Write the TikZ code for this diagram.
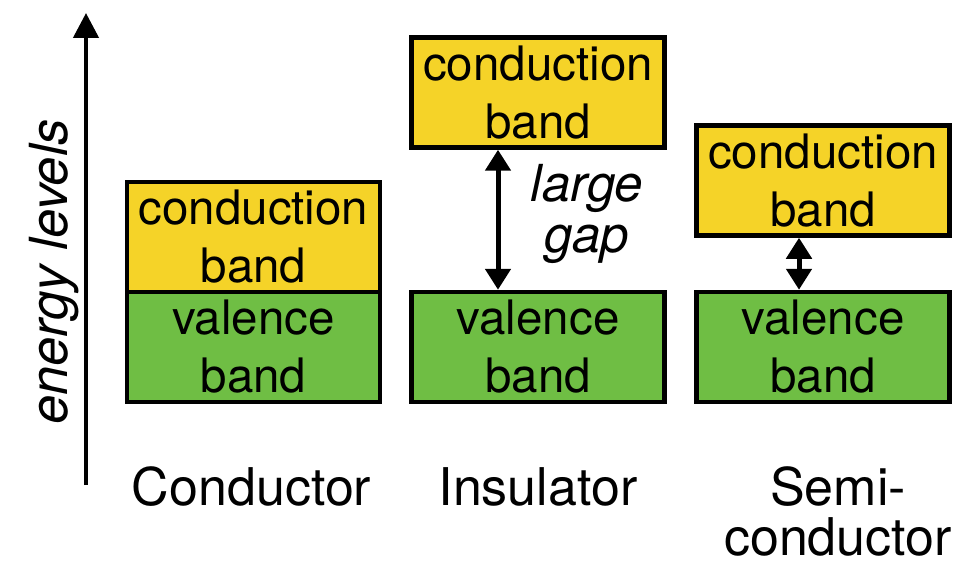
\documentclass[tikz,border=0pt]{standalone}
\usepackage{fontspec}
\setmainfont{TeX Gyre Heros}
\usetikzlibrary{arrows.meta}

\definecolor{bandyellow}{RGB}{245,211,40}
\definecolor{bandgreen}{RGB}{111,190,68}

\newcommand{\bandfont}{\fontsize{47.5pt}{58pt}\selectfont}
\newcommand{\captionfont}{\fontsize{52pt}{50pt}\selectfont}
\newcommand{\gapfont}{\fontsize{51pt}{51pt}\selectfont\itshape}
\newcommand{\axisfont}{\fontsize{52.5pt}{60pt}\selectfont\itshape}

\tikzset{
  band/.style={draw=black, line width=4.5pt, minimum width=253pt,
    minimum height=110pt, inner sep=0pt, align=center, font=\bandfont},
  condband/.style={band, fill=bandyellow},
  valband/.style={band, fill=bandgreen},
  gaparrow/.style={line width=5pt,
    {Triangle[width=25pt 0,length=21pt 0]}-{Triangle[width=25pt 0,length=21pt 0]}},
  axisarrow/.style={line width=4.5pt, -{Triangle[width=25pt 0,length=25pt 0]}},
  caption/.style={font=\captionfont, align=center, inner sep=0pt},
}

\begin{document}
\begin{tikzpicture}[x=1pt, y=-1pt]
  \useasboundingbox (0,0) rectangle (968,572);

  % energy axis
  \coordinate (axbot) at (86,485);
  \coordinate (axtop) at (86,13);
  \draw[axisarrow] (axbot) -- (axtop);
  \node[rotate=90, anchor=base, inner sep=0pt, font=\axisfont] (axlabel)
    at (67,272) {energy levels};

  % conductor: bands touch
  \node[condband] (con-cb) at (253.5,237) {conduction\\band};
  \node[valband]  (con-vb) at (253.5,347) {valence\\band};

  % insulator: wide gap
  \node[condband] (ins-cb) at (538,92.5) {conduction\\band};
  \node[valband]  (ins-vb) at (538,347) {valence\\band};
  \coordinate (ins-gx) at (498,0);
  \draw[gaparrow] (ins-cb.south -| ins-gx) -- (ins-vb.north -| ins-gx);
  \node[font=\gapfont, align=center, inner sep=0pt] (ins-gap)
    at (587,214) {large\\gap};

  % semiconductor: small gap
  \node[condband] (sem-cb) at (823,180.5) {conduction\\band};
  \node[valband]  (sem-vb) at (823,347) {valence\\band};
  \coordinate (sem-gx) at (799,0);
  \draw[gaparrow] (sem-cb.south -| sem-gx) -- (sem-vb.north -| sem-gx);

  % captions
  \node[caption, anchor=base] (cap-con) at (251.5,505) {Conductor};
  \node[caption, anchor=base] (cap-ins) at (538,505) {Insulator};
  \node[caption] (cap-sem) at (838,511) {Semi-\\conductor};
\end{tikzpicture}
\end{document}
